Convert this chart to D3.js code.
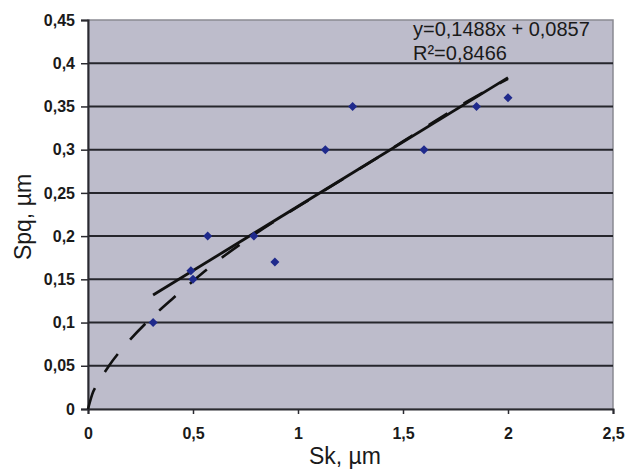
<!DOCTYPE html>
<html>
<head>
<meta charset="utf-8">
<script src="https://cdn.jsdelivr.net/npm/d3@7"></script>
<style>
  body { margin: 0; background: #fff; }
  svg { display: block; font-family: "Liberation Sans", Arial, sans-serif; }
</style>
</head>
<body>
<div id="chart"></div>
<script>
// measured points (Sk vs Spq)
const skValues  = [0.31, 0.49, 0.50, 0.57, 0.79, 0.89, 1.13, 1.26, 1.60, 1.85, 2.00];
const spqValues = [0.10, 0.16, 0.15, 0.20, 0.20, 0.17, 0.30, 0.35, 0.30, 0.35, 0.36];

// linear trend as printed on the chart
const trendSlope = 0.1488;
const trendIntercept = 0.0857;
const trendLabels = ["y=0,1488x + 0,0857", "R\u00b2=0,8466"];

// dashed (power-type) trend
const curveX = [0, 0.02, 0.05, 0.1, 0.2, 0.3, 0.4, 0.5, 0.6, 0.8, 1.0, 1.2, 1.4, 1.6, 1.8, 2.0];
const curveY = [0, 0.017, 0.031, 0.050, 0.080, 0.105, 0.127, 0.148, 0.168, 0.203, 0.234, 0.264, 0.294, 0.325, 0.355, 0.382];

const xTicks = [0, 0.5, 1, 1.5, 2, 2.5];
const yTicks = [0, 0.05, 0.1, 0.15, 0.2, 0.25, 0.3, 0.35, 0.4, 0.45];
const xTitle = "Sk, \u00b5m";
const yTitle = "Spq, \u00b5m";

const width = 626, height = 473;
const margin = { top: 20, right: 13, bottom: 64, left: 88 };
const plotW = width - margin.left - margin.right;
const plotH = height - margin.top - margin.bottom;

const svg = d3.select("#chart").append("svg")
    .attr("width", width)
    .attr("height", height);

const g = svg.append("g").attr("transform", `translate(${margin.left},${margin.top})`);

const x = d3.scaleLinear().domain([0, 2.5]).range([0, plotW]);
const y = d3.scaleLinear().domain([0, 0.45]).range([plotH, 0]);

const commaFmt = d => d3.format(".2~f")(d).replace(".", ",");

// plot background
g.append("rect")
    .attr("width", plotW)
    .attr("height", plotH)
    .attr("fill", "#bdbccb")
    .attr("stroke", "#8a8a92")
    .attr("stroke-width", 1.5);

// horizontal gridlines
g.append("g")
    .selectAll("line")
    .data(yTicks.filter(t => t > 0 && t < 0.45))
    .join("line")
    .attr("x1", 0)
    .attr("x2", plotW)
    .attr("y1", d => y(d))
    .attr("y2", d => y(d))
    .attr("stroke", "#26262c")
    .attr("stroke-width", 2);

// axes
const yAxis = g.append("g")
    .call(d3.axisLeft(y).tickValues(yTicks).tickSize(7).tickPadding(6).tickFormat(commaFmt));
const xAxis = g.append("g")
    .attr("transform", `translate(0,${plotH})`)
    .call(d3.axisBottom(x).tickValues(xTicks).tickSize(5).tickPadding(14).tickFormat(commaFmt));

[yAxis, xAxis].forEach(ax => {
    ax.select(".domain").attr("stroke", "#2a2a30").attr("stroke-width", 2);
    ax.selectAll(".tick line").attr("stroke", "#2a2a30").attr("stroke-width", 1.5);
    ax.selectAll(".tick text")
        .attr("fill", "#1a1a1a")
        .attr("font-size", 16)
        .attr("font-weight", "bold")
        .attr("font-family", "Liberation Sans, Arial, sans-serif");
});

// dashed trend curve
const curvePts = curveX.map((v, i) => [v, curveY[i]]);
g.append("path")
    .datum(curvePts)
    .attr("fill", "none")
    .attr("stroke", "#111")
    .attr("stroke-width", 2.6)
    .attr("stroke-dasharray", "22,19")
    .attr("d", d3.line().x(d => x(d[0])).y(d => y(d[1])).curve(d3.curveMonotoneX));

// linear trend line over the data range
const [xMin, xMax] = d3.extent(skValues);
g.append("line")
    .attr("x1", x(xMin))
    .attr("y1", y(trendSlope * xMin + trendIntercept))
    .attr("x2", x(xMax))
    .attr("y2", y(trendSlope * xMax + trendIntercept))
    .attr("stroke", "#111")
    .attr("stroke-width", 2.8);

// diamond markers
const diamond = "M0,-4.5L4.5,0L0,4.5L-4.5,0Z";
g.append("g")
    .selectAll("path")
    .data(skValues.map((v, i) => [v, spqValues[i]]))
    .join("path")
    .attr("d", diamond)
    .attr("transform", d => `translate(${x(d[0])},${y(d[1])})`)
    .attr("fill", "#1f2a8c");

// equation text
svg.append("g")
    .selectAll("text")
    .data(trendLabels)
    .join("text")
    .attr("x", 413)
    .attr("y", (d, i) => 36 + i * 24)
    .attr("font-size", 20)
    .attr("fill", "#1a1a1a")
    .text(d => d);

// axis titles
svg.append("text")
    .attr("x", 345)
    .attr("y", 464)
    .attr("text-anchor", "middle")
    .attr("font-size", 23)
    .attr("fill", "#1a1a1a")
    .text(xTitle);

svg.append("text")
    .attr("transform", "translate(31,217) rotate(-90)")
    .attr("text-anchor", "middle")
    .attr("font-size", 23)
    .attr("fill", "#1a1a1a")
    .text(yTitle);
</script>
</body>
</html>
